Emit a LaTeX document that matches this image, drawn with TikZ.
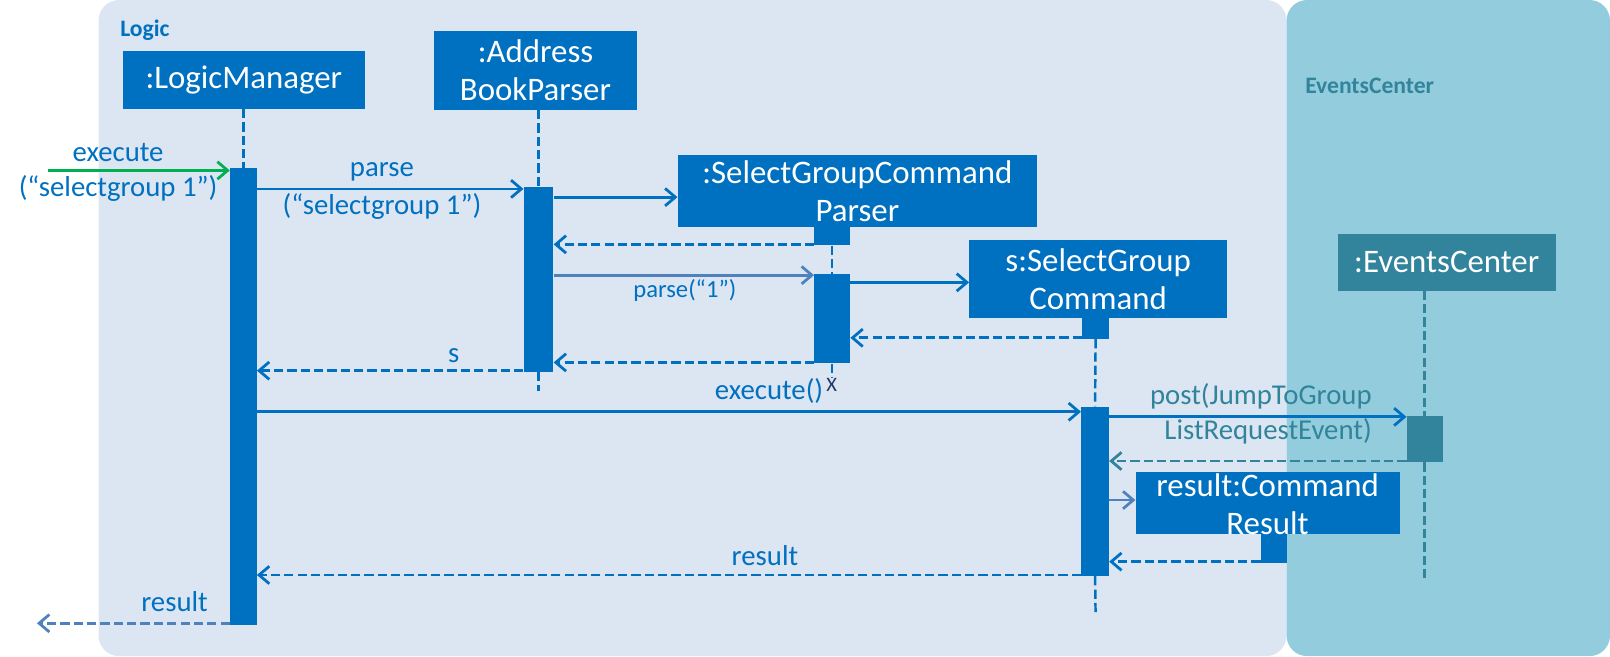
\documentclass[tikz,border=0pt]{standalone}
\usepackage{fontspec}
\setmainfont{Carlito}
\usetikzlibrary{arrows.meta}
\definecolor{logicbg}{HTML}{DCE6F2}
\definecolor{evbg}{HTML}{93CDDD}
\definecolor{objblue}{HTML}{0070C0}
\definecolor{ecteal}{HTML}{31849B}
\definecolor{callgreen}{HTML}{00B050}
\definecolor{softblue}{HTML}{4F81BD}
\definecolor{xnavy}{HTML}{1F3864}
\begin{document}
\begin{tikzpicture}[x=1pt,y=-1pt,
  msg/.style={line width=2.7pt, -{Straight Barb[length=10pt,width=17pt,line width=2.7pt]}, objblue},
  ret/.style={msg, dash pattern=on 9pt off 4pt},
  life/.style={line width=2.4pt, dash pattern=on 9pt off 4pt, objblue},
  objbox/.style={fill=objblue, draw=none, inner sep=0pt, rectangle},
  objtext/.style={text=white, font=\fontsize{32}{37}\selectfont, align=center, inner sep=0pt},
  actbar/.style={fill=objblue, draw=none, inner sep=0pt, rectangle},
  lbl/.style={text=objblue, font=\fontsize{28}{34}\selectfont, inner sep=0pt, align=center},
  framelbl/.style={font=\fontsize{23}{27}\selectfont\bfseries, inner sep=0pt, anchor=west},
]
\useasboundingbox (0,0) rectangle (1568,639);
% frames
\fill[logicbg, rounded corners=20pt] (96,0) rectangle (1253,639);
\fill[evbg, rounded corners=20pt] (1253,0) rectangle (1568,639);
\node[framelbl, text=objblue] (logiclbl) at (117,29) {Logic};
\node[framelbl, text=ecteal] (eclbl) at (1271,84) {EventsCenter};

% object boxes
\node[objbox, minimum width=235pt, minimum height=56pt] (lm) at (237.5,78) {};
\node[objtext] at (lm) {:LogicManager};
\node[objbox, minimum width=197pt, minimum height=77pt] (abp) at (521.5,68.5) {};
\node[objtext] at (abp) {:Address\\BookParser};
\node[objbox, minimum width=350pt, minimum height=70pt] (sgcp) at (835,186) {};
\node[objtext] at (sgcp) {:SelectGroupCommand\\Parser};
\node[objbox, minimum width=251pt, minimum height=76pt] (sgc) at (1069.5,272) {};
\node[objtext] at (sgc) {s:SelectGroup\\Command};
\node[objbox, fill=ecteal, minimum width=212pt, minimum height=55pt] (ec) at (1409,255.5) {};
\node[objtext] at (ec) {:EventsCenter};
\node[objbox, minimum width=257pt, minimum height=60pt] (res) at (1234.5,490) {};

% activation bars
\node[actbar, minimum width=26pt, minimum height=445pt] (lmbar) at (237,386.5) {};
\node[actbar, minimum width=29pt, minimum height=180pt] (abpbar) at (524.5,272) {};
\node[actbar, minimum width=35pt, minimum height=18pt] (sgcpsm) at (810.5,230) {};
\node[actbar, minimum width=35pt, minimum height=87pt] (sgcpbar) at (810.5,310.5) {};
\node[actbar, minimum width=26pt, minimum height=20pt] (sgcsm) at (1067,320) {};
\node[actbar, minimum width=27pt, minimum height=165pt] (sgcbar) at (1066.5,478.5) {};
\node[actbar, fill=ecteal, minimum width=35pt, minimum height=45pt] (ecbar) at (1387.5,427.5) {};
\node[actbar, minimum width=25pt, minimum height=28pt] (ressm) at (1240.5,534) {};
\node[objtext] at (1234.5,491) {result:Command\\Result};

% lifeline ends
\coordinate (abpend) at (524.5,381);
\coordinate (sgcpend) at (810.5,368);
\coordinate (sgcend) at (1067,598);
\coordinate (ecend) at (1387.5,565);
\coordinate (instart) at (47,166);
\coordinate (outend) at (36,607);

% lifelines
\draw[life] (lmbar.north |- lm.south) -- (lmbar.north);
\draw[life] (abpbar.north |- abp.south) -- (abpbar.north);
\draw[life] (abpbar.south) -- (abpend);
\draw[life] (sgcpsm.south) -- (sgcpbar.north);
\draw[life] (sgcpbar.south) -- (sgcpend);
\draw[life] (sgcsm.south) -- (sgcbar.north);
\draw[life] (sgcbar.south) -- (sgcend);
\draw[life, ecteal] (ecbar.north |- ec.south) -- (ecbar.north);
\draw[life, ecteal] (ecbar.south) -- (ecend);
\node[text=xnavy, font=\fontsize{20}{24}\selectfont, inner sep=0pt] (xmark) at (810,375) {X};

% messages
\draw[msg, callgreen] (instart) -- (lmbar.west |- 0,166);
\draw[msg] (lmbar.east |- 0,184) -- (abpbar.west |- 0,184);
\draw[msg] (abpbar.east |- 0,192) -- (sgcp.west |- 0,192);
\draw[ret] (sgcpsm.west |- 0,238) -- (abpbar.east |- 0,238);
\draw[msg, softblue] (abpbar.east |- 0,268) -- (sgcpbar.west |- 0,268);
\draw[msg] (sgcpbar.east |- 0,275) -- (sgc.west |- 0,275);
\draw[ret] (sgcsm.west |- 0,329) -- (sgcpbar.east |- 0,329);
\draw[ret] (sgcpbar.west |- 0,353) -- (abpbar.east |- 0,353);
\draw[ret] (abpbar.west |- 0,361) -- (lmbar.east |- 0,361);
\draw[msg] (lmbar.east |- 0,401) -- (sgcbar.west |- 0,401);
\draw[msg] (sgcbar.east |- 0,406) -- (ecbar.west |- 0,406);
\draw[ret, ecteal] (ecbar.west |- 0,449) -- (sgcbar.east |- 0,449);
\draw[msg, softblue] (sgcbar.east |- 0,487) -- (res.west |- 0,487);
\draw[ret] (ressm.west |- 0,547) -- (sgcbar.east |- 0,547);
\draw[ret] (sgcbar.west |- 0,560) -- (lmbar.east |- 0,560);
\draw[ret, softblue] (lmbar.west |- 0,607) -- (outend);

% labels
\node[lbl] at (115,149) {execute};
\node[lbl] at (115,184) {(“selectgroup 1”)};
\node[lbl] at (372,167) {parse};
\node[lbl] at (372,201) {(“selectgroup 1”)};
\node[lbl, font=\fontsize{24}{28}\selectfont] at (667,283) {parse(“1”)};
\node[lbl] at (442,346) {s};
\node[lbl] at (749,381) {execute()};
\node[lbl, text=ecteal] at (1228,386) {post(JumpToGroup};
\node[lbl, text=ecteal] at (1235,420) {ListRequestEvent)};
\node[lbl] at (745,541) {result};
\node[lbl] at (170,586) {result};
\end{tikzpicture}
\end{document}
